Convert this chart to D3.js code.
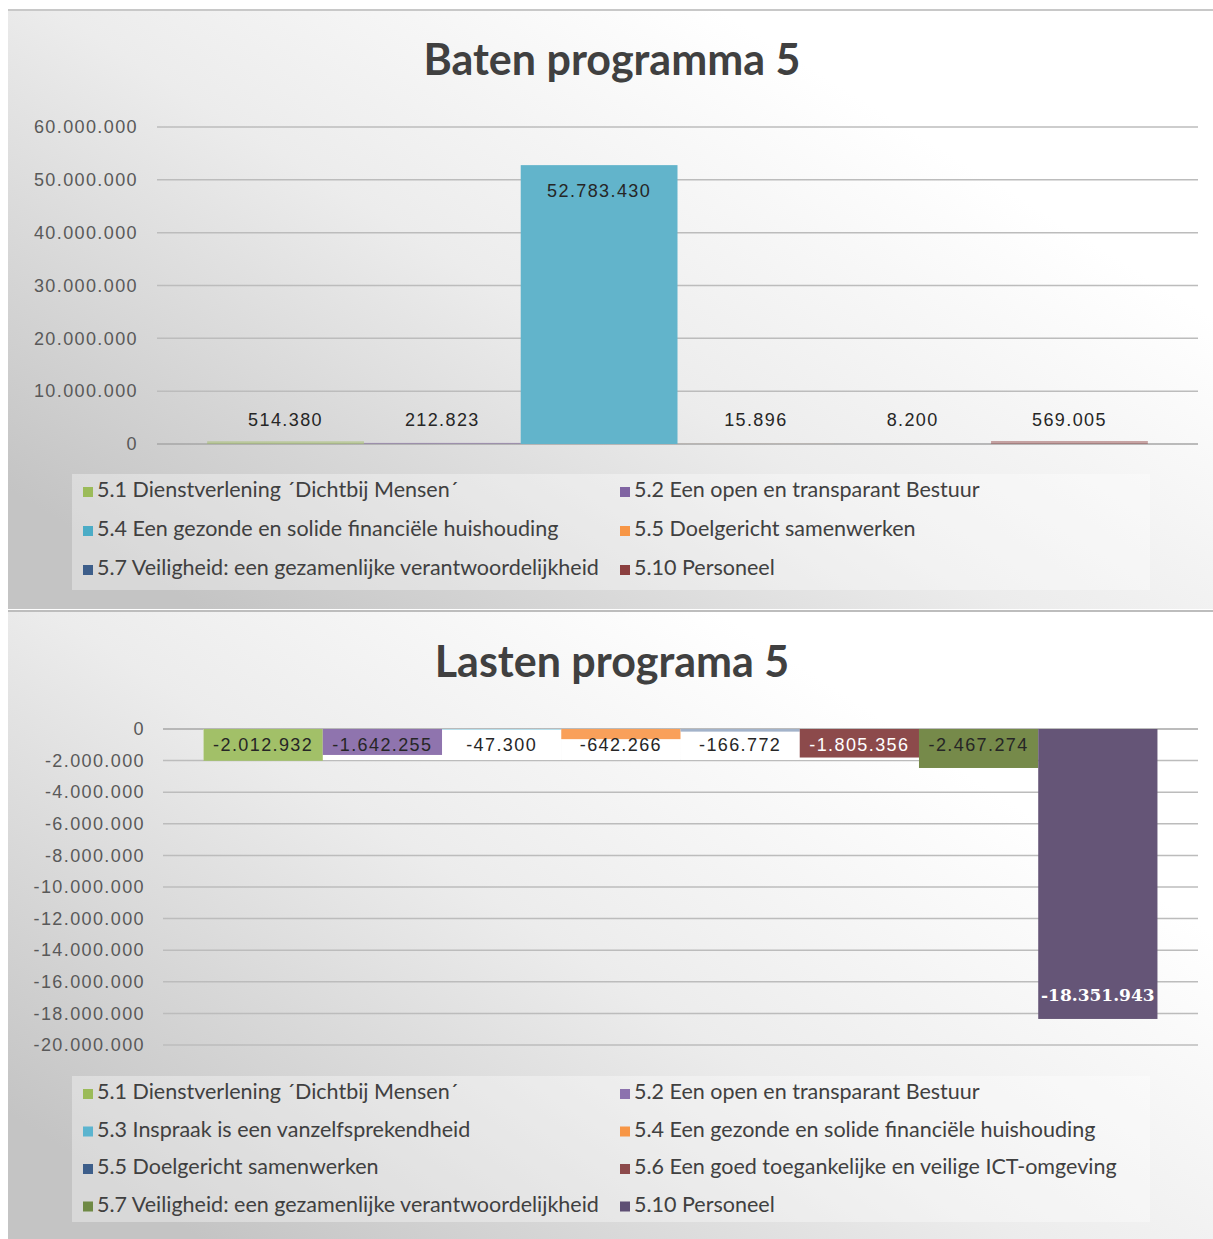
<!DOCTYPE html>
<html>
<head>
<meta charset="utf-8">
<script src="https://cdn.jsdelivr.net/npm/d3@7"></script>
<style>
  body { margin: 0; background: #fff; }
  svg { display: block; }
</style>
</head>
<body>
<svg id="chart" width="1213" height="1239"></svg>
<script>
// data
var batenNames = ["5.1 Dienstverlening ´Dichtbij Mensen´", "5.2 Een open en transparant Bestuur",
  "5.4 Een gezonde en solide financiële huishouding", "5.5 Doelgericht samenwerken",
  "5.7 Veiligheid: een gezamenlijke verantwoordelijkheid", "5.10 Personeel"];
var batenValues = [514380, 212823, 52783430, 15896, 8200, 569005];
var batenColors = ["#9bbb59", "#8064a2", "#62b4cb", "#f79646", "#3d5e8a", "#8b3f3f"];
var batenTicks = [0, 10000000, 20000000, 30000000, 40000000, 50000000, 60000000];

var lastenNames = ["5.1 Dienstverlening ´Dichtbij Mensen´", "5.2 Een open en transparant Bestuur",
  "5.3 Inspraak is een vanzelfsprekendheid", "5.4 Een gezonde en solide financiële huishouding",
  "5.5 Doelgericht samenwerken", "5.6 Een goed toegankelijke en veilige ICT-omgeving",
  "5.7 Veiligheid: een gezamenlijke verantwoordelijkheid", "5.10 Personeel"];
var lastenValues = [-2012932, -1642255, -47300, -642266, -166772, -1805356, -2467274, -18351943];
var lastenColors = ["#a2c068", "#8f74ae", "#9fd3e3", "#f9a05a", "#a3b3ca", "#8c4a4b", "#768a4a", "#655577"];
var lastenMarkers = ["#9bbb59", "#8c72ae", "#5bb4cf", "#f79646", "#3d5e8a", "#8c4a4b", "#6f8a45", "#5e4f74"];
var lastenLabelColors = ["#262626", "#262626", "#262626", "#262626", "#262626", "#ffffff", "#262626", "#ffffff"];
var lastenTicks = [0, -2000000, -4000000, -6000000, -8000000, -10000000, -12000000, -14000000, -16000000, -18000000, -20000000];

var nl = d3.formatLocale({decimal: ",", thousands: ".", grouping: [3], currency: ["€", ""], minus: "-"});
var fmt = nl.format(",d");

var svg = d3.select("#chart");
var defs = svg.append("defs");
var grad = defs.append("linearGradient").attr("id", "bg")
  .attr("x1", "0").attr("y1", "0.8").attr("x2", "0.75").attr("y2", "0.2");
grad.append("stop").attr("offset", "0").attr("stop-color", "#c4c4c4");
grad.append("stop").attr("offset", "0.55").attr("stop-color", "#ececec");
grad.append("stop").attr("offset", "1").attr("stop-color", "#ffffff");

// panels
svg.append("rect").attr("x", 8).attr("y", 10).attr("width", 1205).attr("height", 599).attr("fill", "url(#bg)");
svg.append("line").attr("x1", 8).attr("x2", 1213).attr("y1", 10).attr("y2", 10).attr("stroke", "#c8c8c8").attr("stroke-width", 2);
svg.append("rect").attr("x", 8).attr("y", 612).attr("width", 1205).attr("height", 627).attr("fill", "url(#bg)");
svg.append("line").attr("x1", 8).attr("x2", 1213).attr("y1", 611).attr("y2", 611).attr("stroke", "#bdbdbd").attr("stroke-width", 2);

var tickFont = "'Liberation Sans', Arial, sans-serif";
var legendFont = "Lato, 'Open Sans', sans-serif";

function drawLegend(g, names, colors, x0, y0, w, h, rowH) {
  g.append("rect").attr("x", x0).attr("y", y0).attr("width", w).attr("height", h)
    .attr("fill", "#ffffff").attr("fill-opacity", 0.35);
  names.forEach(function(n, i) {
    var col = i % 2, row = Math.floor(i / 2);
    var x = x0 + 11 + col * 537, y = y0 + 18 + row * rowH;
    g.append("rect").attr("x", x).attr("y", y - 5).attr("width", 10).attr("height", 10).attr("fill", colors[i]);
    g.append("text").attr("x", x + 14).attr("y", y).text(n)
      .attr("dominant-baseline", "middle").style("font-family", legendFont)
      .style("font-size", "21.5px").style("fill", "#404040");
  });
}

// ---------- Baten ----------
var b = svg.append("g");
b.append("text").attr("x", 612).attr("y", 75).attr("text-anchor", "middle").text("Baten programma 5")
  .style("font-family", legendFont).style("font-weight", "bold").style("font-size", "43px").style("fill", "#404040");

var xB = d3.scaleBand().domain(batenNames).range([157, 1198]).paddingInner(0).paddingOuter(0.32);
var yB = d3.scaleLinear().domain([0, 60000000]).range([444, 127]);

b.selectAll(".grid").data(batenTicks).enter().append("line")
  .attr("x1", 157).attr("x2", 1198).attr("y1", function(d) { return yB(d); }).attr("y2", function(d) { return yB(d); })
  .attr("stroke", function(d) { return d === 0 ? "#a6a6a6" : "#bcbcbc"; }).attr("stroke-width", 1.5);

var axB = b.append("g").attr("transform", "translate(157,0)")
  .call(d3.axisLeft(yB).tickValues(batenTicks).tickFormat(fmt).tickSize(0).tickPadding(19));
axB.select(".domain").remove();
axB.selectAll("text").style("font-family", tickFont).style("font-size", "18px").style("letter-spacing", "1.4px").style("fill", "#595959");

b.selectAll(".bar").data(batenValues).enter().append("rect")
  .attr("x", function(d, i) { return xB(batenNames[i]); })
  .attr("width", xB.bandwidth())
  .attr("y", function(d) { return yB(d); })
  .attr("height", function(d) { return yB(0) - yB(d); })
  .attr("fill", function(d, i) { return batenColors[i]; })
  .attr("fill-opacity", function(d, i) { return i === 2 ? 1 : 0.45; });

b.selectAll(".lbl").data(batenValues).enter().append("text")
  .attr("x", function(d, i) { return xB(batenNames[i]) + xB.bandwidth() / 2; })
  .attr("y", function(d) { var h = yB(0) - yB(d); return h > 40 ? yB(d) + 27 : yB(0) - 23; })
  .attr("text-anchor", "middle").attr("dominant-baseline", "middle")
  .text(function(d) { return fmt(d); })
  .style("font-family", tickFont).style("font-size", "18px").style("letter-spacing", "1.4px").style("fill", "#262626");

drawLegend(b, batenNames, ["#9bbb59", "#8064a2", "#4bacc6", "#f79646", "#3d5e8a", "#8b3f3f"], 72, 474, 1078, 116, 39);

// ---------- Lasten ----------
var l = svg.append("g");
l.append("text").attr("x", 612).attr("y", 677).attr("text-anchor", "middle").text("Lasten programa 5")
  .style("font-family", legendFont).style("font-weight", "bold").style("font-size", "43px").style("fill", "#404040");

var xL = d3.scaleBand().domain(lastenNames).range([163, 1198]).paddingInner(0).paddingOuter(0.34);
var yL = d3.scaleLinear().domain([-20000000, 0]).range([1045, 729]);

l.selectAll(".grid").data(lastenTicks).enter().append("line")
  .attr("x1", 163).attr("x2", 1198).attr("y1", function(d) { return yL(d); }).attr("y2", function(d) { return yL(d); })
  .attr("stroke", function(d) { return d === 0 ? "#a6a6a6" : "#bcbcbc"; }).attr("stroke-width", 1.5);

var axL = l.append("g").attr("transform", "translate(163,0)")
  .call(d3.axisLeft(yL).tickValues(lastenTicks).tickFormat(fmt).tickSize(0).tickPadding(18));
axL.select(".domain").remove();
axL.selectAll("text").style("font-family", tickFont).style("font-size", "18px").style("letter-spacing", "1.4px").style("fill", "#595959");

// white label boxes next to the axis
l.selectAll(".box").data(lastenValues).enter().append("rect")
  .attr("x", function(d, i) { return xL(lastenNames[i]); })
  .attr("width", xL.bandwidth())
  .attr("y", yL(0))
  .attr("height", 31)
  .attr("fill", function(d, i) { return i === 7 ? "none" : "#ffffff"; });

l.selectAll(".bar").data(lastenValues).enter().append("rect")
  .attr("x", function(d, i) { return xL(lastenNames[i]); })
  .attr("width", xL.bandwidth())
  .attr("y", yL(0))
  .attr("height", function(d) { return yL(d) - yL(0); })
  .attr("fill", function(d, i) { return lastenColors[i]; });

l.selectAll(".lbl").data(lastenValues).enter().append("text")
  .attr("x", function(d, i) { return xL(lastenNames[i]) + xL.bandwidth() / 2; })
  .attr("y", function(d, i) { return i === 7 ? yL(d) - 22 : yL(0) + 17; })
  .attr("text-anchor", "middle").attr("dominant-baseline", "middle")
  .text(function(d) { return fmt(d); })
  .style("font-family", function(d, i) { return i === 7 ? "'DejaVu Serif', serif" : tickFont; })
  .style("font-weight", function(d, i) { return i === 7 ? "bold" : "normal"; })
  .style("font-size", function(d, i) { return i === 7 ? "17px" : "18px"; })
  .style("letter-spacing", function(d, i) { return i === 7 ? "0px" : "1.4px"; })
  .style("fill", function(d, i) { return lastenLabelColors[i]; });

drawLegend(l, lastenNames, lastenMarkers, 72, 1076, 1078, 146, 37.5);
</script>
</body>
</html>
